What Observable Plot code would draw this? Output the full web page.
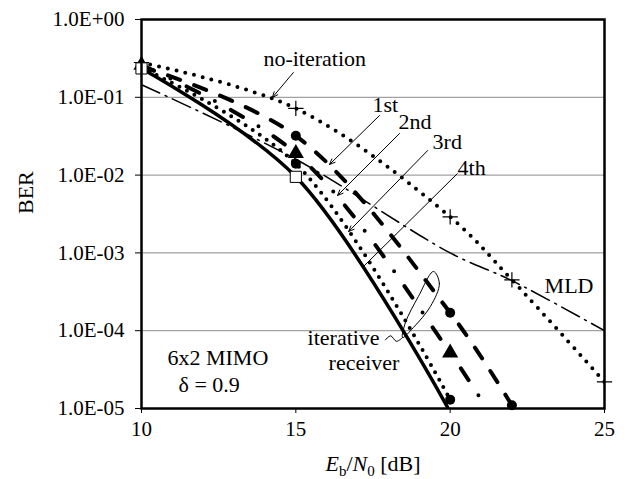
<!DOCTYPE html>
<html><head><meta charset="utf-8">
<script src="https://cdn.jsdelivr.net/npm/d3@7"></script>
<script src="https://cdn.jsdelivr.net/npm/@observablehq/plot@0.6"></script>
<style>body{margin:0;background:#fff} svg{display:block}</style>
</head><body><div id="chart"></div>
<script>
// ---- axis ticks ----
const xTicks = [10, 15, 20, 25];
const yTicks = [1, 1e-1, 1e-2, 1e-3, 1e-4, 1e-5];
const yTickLabels = ["1.0E+00", "1.0E-01", "1.0E-02", "1.0E-03", "1.0E-04", "1.0E-05"];

// ---- series (Eb/N0 [dB], BER) ----
const ebn0NoIter = [10, 15, 20, 22, 25];
const berNoIter  = [0.28, 0.072, 0.0029, 4.5e-4, 2.2e-5];
const ebn0First  = [10, 15, 20, 22];
const berFirst   = [0.25, 0.032, 1.7e-4, 1.1e-5];
const ebn0Second = [10, 15, 20, 22];
const berSecond  = [0.26, 0.019, 5.2e-5, 3.0e-6];
const ebn0Third  = [10, 15, 20];
const berThird   = [0.24, 0.014, 1.3e-5];
const ebn0Fourth = [10, 15, 20];
const berFourth  = [0.235, 0.0095, 9.0e-6];
const ebn0MLD    = [10, 15, 20, 22, 25];
const berMLD     = [0.145, 0.016, 1.0e-3, 4.4e-4, 1.0e-4];

// ---- annotations ----
const annText = ["no-iteration", "1st", "2nd", "3rd", "4th", "MLD", "iterative", "receiver", "6x2 MIMO", "δ = 0.9"];
const annX    = [13.95, 17.48, 18.33, 19.43, 20.24, 23.06, 15.38, 16.06, 10.84, 11.2];
const annY    = [0.315, 0.0808, 0.0489, 0.0270, 0.01253, 3.81e-4, 8.18e-5, 3.90e-5, 4.53e-5, 2.03e-5];

const arrowX1 = [14.92, 17.71, 18.36, 19.27];
const arrowY1 = [0.208, 0.0583, 0.0343, 0.0207];
const arrowX2 = [14.24, 16.09, 16.35, 16.71];
const arrowY2 = [0.0994, 0.01368, 0.00547, 0.00188];
const leaderX = [20.24, 17.19];
const leaderY = [0.0105, 6.68e-4];

const ellipseX = [19.46, 19.65, 19.36, 18.81, 18.46, 18.55, 18.97];
const ellipseY = [5.77e-4, 4.05e-4, 2.05e-4, 1.10e-4, 8.18e-5, 1.27e-4, 2.75e-4];
const tailX = [18.46, 18.26, 18.07, 17.9];
const tailY = [8.18e-5, 7.3e-5, 8.6e-5, 7.6e-5];

const rows = (xs, ys) => xs.map((x, i) => ({x, y: ys[i]}));
const inRange = (r) => r.filter(d => d.y >= 1e-5 && d.y <= 1 && d.x >= 10 && d.x <= 25);

const noIter = rows(ebn0NoIter, berNoIter);
const first = rows(ebn0First, berFirst);
const second = rows(ebn0Second, berSecond);
const third = rows(ebn0Third, berThird);
const fourth = rows(ebn0Fourth, berFourth);
const mld = rows(ebn0MLD, berMLD);
const ann = annText.map((t, i) => ({t, x: annX[i], y: annY[i]}));
const arrows = arrowX1.map((x1, i) => ({x1, y1: arrowY1[i], x2: arrowX2[i], y2: arrowY2[i]}));

const FONT = "'Liberation Serif', 'Times New Roman', serif";
const yLabelMap = new Map(yTicks.map((t, i) => [t, yTickLabels[i]]));

const chart = Plot.plot({
  width: 625, height: 479,
  marginLeft: 141, marginRight: 21, marginTop: 19, marginBottom: 71,
  x: {domain: [10, 25]},
  y: {type: "log", domain: [1e-5, 1]},
  style: {fontFamily: FONT, fontSize: "21px", color: "#000", background: "#fff"},
  marks: [
    Plot.ruleY(yTicks, {stroke: "#8a8a8a", strokeWidth: 1}),
    Plot.axisY({ticks: yTicks, tickFormat: d => yLabelMap.get(d), tickSize: 6, tickPadding: 11, fontSize: 21, label: null, stroke: "#000"}),
    Plot.axisX({ticks: xTicks, tickSize: 5, tickPadding: 8, fontSize: 21, label: null}),
    // lines
    Plot.line(mld, {x: "x", y: "y", curve: "catmull-rom", stroke: "#000", strokeWidth: 1.5, strokeDasharray: "20,6,2,6", clip: true}),
    Plot.line(noIter, {x: "x", y: "y", curve: "catmull-rom", stroke: "#000", strokeWidth: 4, strokeDasharray: "0,9", strokeLinecap: "round", clip: true}),
    Plot.line(first, {x: "x", y: "y", curve: "catmull-rom", stroke: "#000", strokeWidth: 4, strokeDasharray: "13,15", strokeLinecap: "round", clip: true}),
    Plot.line(second, {x: "x", y: "y", curve: "catmull-rom", stroke: "#000", strokeWidth: 4, strokeDasharray: "14,18,0,18", strokeLinecap: "round", clip: true}),
    Plot.line(third, {x: "x", y: "y", curve: "catmull-rom", stroke: "#000", strokeWidth: 4, strokeDasharray: "0,8.5", strokeLinecap: "round", clip: true}),
    Plot.line(fourth, {x: "x", y: "y", curve: "catmull-rom", stroke: "#000", strokeWidth: 3.5, clip: true}),
    // markers
    Plot.dot(inRange(noIter), {x: "x", y: "y", symbol: "plus", r: 5, stroke: "#000", strokeWidth: 1.2}),
    Plot.dot(inRange(first), {x: "x", y: "y", symbol: "circle", r: 5, fill: "#000", stroke: "none"}),
    Plot.dot(inRange(second), {x: "x", y: "y", symbol: "triangle", r: 6, fill: "#000", stroke: "none"}),
    Plot.dot(inRange(third), {x: "x", y: "y", symbol: "circle", r: 5, fill: "#000", stroke: "none"}),
    Plot.dot(inRange(fourth), {x: "x", y: "y", symbol: "square", r: 6.3, fill: "#fff", stroke: "#000", strokeWidth: 1}),
    Plot.frame({stroke: "#000", strokeWidth: 2.5}),
    // annotations
    Plot.arrow(arrows, {x1: "x1", y1: "y1", x2: "x2", y2: "y2", stroke: "#000", strokeWidth: 1, headLength: 9, headAngle: 45}),
    Plot.link([{x1: leaderX[0], y1: leaderY[0], x2: leaderX[1], y2: leaderY[1]}], {x1: "x1", y1: "y1", x2: "x2", y2: "y2", stroke: "#000", strokeWidth: 1}),
    Plot.line(rows(ellipseX, ellipseY), {x: "x", y: "y", curve: "catmull-rom-closed", stroke: "#000", strokeWidth: 1}),
    Plot.line(rows(tailX, tailY), {x: "x", y: "y", curve: "catmull-rom", stroke: "#000", strokeWidth: 1}),
    Plot.text(ann, {x: "x", y: "y", text: "t", textAnchor: "start", fontSize: 22, fill: "#000"}),
    Plot.text(["BER"], {frameAnchor: "left", dx: -116, rotate: -90, fontSize: 22, fill: "#000"}),
    Plot.text(["Eb/N0 [dB]"], {frameAnchor: "bottom", dy: 62, fontSize: 22, fill: "#000"})
  ]
});

document.getElementById("chart").appendChild(chart);

// rich x-axis label: italic E and N with subscripts
d3.select(chart).selectAll("text").filter(function () { return this.textContent === "Eb/N0 [dB]"; })
  .each(function () {
    const t = d3.select(this);
    t.text(null);
    t.append("tspan").attr("font-style", "italic").text("E");
    t.append("tspan").attr("font-size", 15).attr("dy", 5).text("b");
    t.append("tspan").attr("dy", -5).text("/");
    t.append("tspan").attr("font-style", "italic").text("N");
    t.append("tspan").attr("font-size", 15).attr("dy", 5).text("0");
    t.append("tspan").attr("dy", -5).text(" [dB]");
  });
</script>
</body></html>
